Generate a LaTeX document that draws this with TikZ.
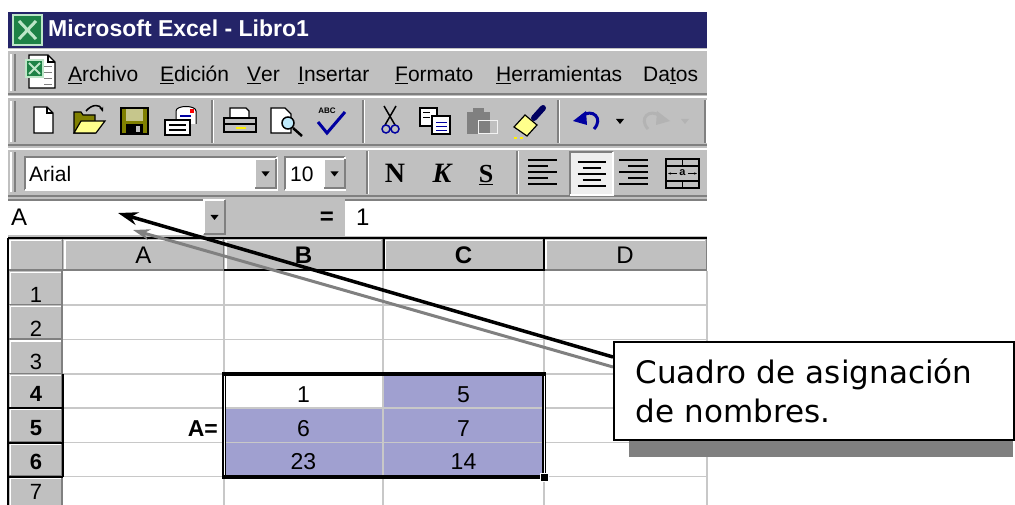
\documentclass[tikz,border=0pt]{standalone}
\usepackage{fontspec}
\setmainfont{Liberation Sans}
\newfontfamily\verdana{DejaVu Sans}
\newfontfamily\romana{Liberation Serif}
\usetikzlibrary{arrows.meta}
\definecolor{grisWin}{RGB}{192,192,192}
\definecolor{grisOsc}{RGB}{128,128,128}
\definecolor{azulTit}{RGB}{36,36,104}
\definecolor{lila}{RGB}{160,160,208}
\definecolor{rejilla}{RGB}{200,200,200}
\definecolor{olivo}{RGB}{128,128,0}
\definecolor{amarillo}{RGB}{255,255,140}
\definecolor{azulIco}{RGB}{0,0,160}
\definecolor{verdeXl}{RGB}{30,130,70}
\definecolor{verdeClaro}{RGB}{190,230,200}
\newcommand{\tam}[1]{\fontsize{#1}{#1}\selectfont}

\begin{document}
\begin{tikzpicture}[x=1pt,y=-1pt,
    luz/.style={white,line width=1.5pt},
    sombra/.style={grisOsc,line width=1.5pt},
    menu/.style={anchor=base west,inner sep=0pt,font=\tam{21pt}},
    celda/.style={anchor=base,inner sep=0pt,font=\tam{23pt}},
    cabecera/.style={anchor=base,inner sep=0pt,font=\tam{22pt}},
    icono/.style={line width=1.2pt},
    flecha/.style={line width=3.5pt,-{Stealth[length=20pt,width=13pt]}}]

\useasboundingbox (0,0) rectangle (1015,505);
\fill[white] (0,0) rectangle (1015,505);

% ventana y barras
\fill[grisWin] (8,48) rectangle (707,238);
\fill[azulTit] (8,12) rectangle (707,48);
\draw[verdeClaro,fill=verdeXl,line width=2pt] (13,15) rectangle (42,45);
\draw[verdeClaro,line width=3pt] (19,21) -- (36,39) (36,21) -- (19,39);
\node[anchor=base west,inner sep=0pt,white,font=\bfseries\tam{23pt}] (titulo) at (48,37) {Microsoft Excel - Libro1};

\foreach \a/\b in {50/94, 97/145, 149/196}
    {\draw[luz] (8,\a) -- (707,\a); \draw[sombra] (8,\b) -- (707,\b);}
\foreach \a/\b in {54/91, 101/142, 152/192}
    {\draw[luz] (11,\a) -- (11,\b); \draw[sombra] (15,\a) -- (15,\b);}
\foreach \x/\a/\b in {212/100/143, 363/100/143, 558/100/143, 705/100/143, 367/151/194, 517/151/194}
    {\draw[sombra] (\x,\a) -- (\x,\b); \draw[luz] (\x+1.5,\a) -- (\x+1.5,\b);}

% menu
\draw[icono,fill=white] (29,55) -- (48,55) -- (55,62) -- (55,88) -- (29,88) -- cycle;
\draw[icono] (48,55) -- (48,62) -- (55,62);
\foreach \y in {66,72,78,84} \draw[grisOsc] (44,\y) -- (52,\y);
\draw[verdeClaro,fill=verdeXl,line width=1.5pt] (26,60) rectangle (43,77);
\draw[verdeClaro,line width=2pt] (29,63) -- (40,74) (40,63) -- (29,74);
\foreach \x/\t in {68/{\underline{A}rchivo}, 160/{\underline{E}dición}, 247/{\underline{V}er},
                   298/{\underline{I}nsertar}, 395/{\underline{F}ormato}, 496/{\underline{H}erramientas},
                   643/{Da\underline{t}os}}
    \node[menu] at (\x,82) {\t};

% barra estandar
\draw[icono,fill=white] (34,107) -- (47,107) -- (53,113) -- (53,133) -- (34,133) -- cycle;
\draw[icono] (47,107) -- (47,113) -- (53,113);
\draw[icono,fill=olivo] (74,112) -- (81,112) -- (83,115) -- (95,115) -- (95,133) -- (74,133) -- cycle;
\draw[icono,fill=amarillo] (74,133) -- (81,121) -- (105,121) -- (96,133) -- cycle;
\draw[line width=1.5pt,-{Stealth[length=5pt]}] (86,111) .. controls (92,104) and (100,104) .. (103,112);
\draw[icono,fill=olivo] (121,108) rectangle (148,134);
\fill[white!55!olivo] (126,109) rectangle (143,121);
\fill[black] (126,124) rectangle (143,134);
\fill[grisWin] (136,126) rectangle (140,132);
\draw[line width=1pt,fill=white] (176,124) -- (176,111) .. controls (176,105) and (196,105) .. (196,111) -- (196,124);
\fill[red] (190,109) rectangle (194,113);
\draw[azulIco,icono] (180,116) -- (191,116);
\draw[icono,fill=white] (165,120) rectangle (190,135);
\foreach \y in {125,130} \draw[icono] (169,\y) -- (186,\y);
\draw[icono,fill=white] (230,108) -- (246,108) -- (249,111) -- (249,118) -- (230,118) -- cycle;
\draw[line width=1.5pt,fill=grisWin] (224,118) rectangle (256,132);
\draw[icono] (224,124) -- (256,124);
\fill[yellow] (236,127) rectangle (246,129);
\draw[icono,fill=white] (271,108) -- (285,108) -- (291,114) -- (291,133) -- (271,133) -- cycle;
\draw[line width=2.5pt] (293,128) -- (302,136);
\draw[line width=1.5pt,fill=cyan!25] (288,123) circle (6pt);
\node[inner sep=0pt,font=\bfseries\tam{8pt}] (abc) at (327,111) {ABC};
\draw[azulIco,line width=3pt] (318,122) -- (327,133) -- (345,112);
\draw[line width=1.5pt] (384,106) -- (395,125) (396,106) -- (385,125);
\draw[azulIco,line width=1.5pt] (386,129) circle (4pt) (395,129) circle (4pt);
\draw[icono,fill=white] (420,108) rectangle (437,126);
\draw[icono,fill=white] (432,116) rectangle (450,134);
\foreach \y in {112,117} \draw (423,\y) -- (430,\y);
\foreach \y in {122,126,130} \draw[azulIco] (436,\y) -- (447,\y);
\fill[grisOsc] (467,112) rectangle (490,134);
\fill[grisOsc] (473,108) rectangle (484,113);
\draw[white!80!grisWin,line width=1pt] (478,121) rectangle (497,134);
\draw[azulIco!60!black,line width=6pt,line cap=round] (534,118) -- (543,108);
\draw[icono,fill=amarillo] (514,127) -- (525,115) -- (537,125) -- (527,136) -- cycle;
\draw[yellow,dashed,line width=1.5pt] (514,138) -- (526,138);
\draw[azulIco,line width=3pt] (582,116) .. controls (592,108) and (604,118) .. (594,129);
\fill[azulIco] (573,121) -- (586,111) -- (587,125) -- cycle;
\fill (616,119) -- (624,119) -- (620,124) -- cycle;
\draw[grisOsc!60!white,line width=3pt] (660,116) .. controls (650,108) and (638,118) .. (648,129);
\fill[grisOsc!60!white] (670,121) -- (657,111) -- (656,125) -- cycle;
\fill[grisOsc!60!white] (681,119) -- (689,119) -- (685,124) -- cycle;

% barra de formato
\foreach \a/\b in {25/277, 285/345}
    {\fill[white] (\a,157) rectangle (\b,190);
     \draw[sombra] (\a,190) -- (\a,157) -- (\b,157);
     \draw[luz] (\a,190) -- (\b,190) -- (\b,157);}
\foreach \x/\a/\b in {255/159/188, 324/159/188, 204/200/234}
    {\fill[grisWin] (\x,\a) rectangle (\x+21,\b);
     \draw[luz] (\x,\b) -- (\x,\a) -- (\x+21,\a);
     \draw[sombra] (\x,\b) -- (\x+21,\b) -- (\x+21,\a);
     \fill (\x+6.5,\a/2+\b/2-2) -- (\x+14.5,\a/2+\b/2-2) -- (\x+10.5,\a/2+\b/2+3) -- cycle;}
\node[menu] (fuente) at (29,182) {Arial};
\node[menu] (tamano) at (290,182) {10};
\node[anchor=base,inner sep=0pt,font=\romana\bfseries\tam{28pt}] (negrita) at (395,183) {N};
\node[anchor=base,inner sep=0pt,font=\romana\bfseries\itshape\tam{28pt}] (cursiva) at (442,183) {K};
\node[anchor=base,inner sep=0pt,font=\romana\bfseries\tam{26pt}] (subrayado) at (486,183) {\underline{S}};
\foreach \y/\l in {160/29, 166/20, 172/29, 178/20, 184/29}
    {\draw[line width=2.5pt] (528,\y) -- ++(\l,0);
     \draw[line width=2.5pt] (648-\l,\y) -- (648,\y);}
\fill[white!75!grisWin] (570,152) rectangle (613,195);
\draw[sombra] (570,195) -- (570,152) -- (613,152);
\draw[luz] (570,195) -- (613,195) -- (613,152);
\foreach \y/\l in {162/28, 168/18, 174/28, 180/18, 186/28}
    \draw[line width=2.5pt] (591.5-\l/2,\y) -- ++(\l,0);
\draw[line width=1.5pt] (666,159) rectangle (699,188);
\draw[line width=1.5pt] (666,166) -- (699,166) (666,181) -- (699,181)
    (682.5,159) -- (682.5,166) (682.5,181) -- (682.5,188);
\node[inner sep=0pt,font=\bfseries\tam{11pt}] (letraA) at (682.5,173) {a};
\draw[icono,-{Stealth[length=3pt]}] (677,173.5) -- (668,173.5);
\draw[icono,-{Stealth[length=3pt]}] (688,173.5) -- (697,173.5);

% barra de formulas
\fill[white] (8,200) rectangle (203,235);
\draw[sombra] (8,200) -- (203,200);
\node[menu,font=\tam{24pt}] (cuadroNombre) at (11,226) {A};
\node[inner sep=0pt,font=\bfseries\tam{24pt}] (igual) at (327,218) {=};
\fill[white] (345,200) rectangle (707,236);
\draw[sombra] (345,200) -- (707,200);
\node[menu,font=\tam{24pt}] (formula) at (356,226) {1};

% hoja
\fill[grisWin] (8,238) rectangle (707,271);
\fill[grisWin] (8,271) rectangle (63,505);
\fill[lila] (224,374) rectangle (544,476.5);
\fill[white] (224,374) rectangle (383,408);
\foreach \x in {224,383,544,707}
    \draw[rejilla,line width=1.5pt] (\x,271) -- (\x,505);
\foreach \y in {305,339.5,374,408,442.5,476.5}
    \draw[rejilla,line width=1.5pt] (63,\y) -- (707,\y);
\draw[black,line width=1.5pt] (8,238) -- (707,238);
\foreach \a/\b in {8/63, 63/224, 224/383, 383/544, 544/707}
    {\draw[luz] (\a+2,240.5) -- (\b-2,240.5); \draw[luz] (\a+2,240.5) -- (\a+2,269);
     \draw[sombra] (\b-0.75,239) -- (\b-0.75,270); \draw[sombra] (\a,270) -- (\b,270);}
\draw[black,line width=2pt] (224,270.5) -- (544,270.5) (383.5,239) -- (383.5,271) (544,239) -- (544,271);
\foreach \x/\l in {143.5/A, 625/D}
    \node[anchor=base,inner sep=0pt,font=\tam{24pt}] at (\x,263) {\l};
\foreach \x/\l in {303.5/B, 463.5/C}
    \node[anchor=base,inner sep=0pt,font=\bfseries\tam{24pt}] at (\x,263) {\l};
\foreach \a/\b in {271/305, 305/339.5, 339.5/374, 374/408, 408/442.5, 442.5/476.5, 476.5/511}
    {\draw[luz] (10,\a+1.5) -- (61,\a+1.5); \draw[luz] (10.5,\a+1.5) -- (10.5,\b-1.5);
     \draw[sombra] (9,\b-0.75) -- (62,\b-0.75); \draw[sombra] (62,\a) -- (62,\b);}
\draw[black,line width=2pt] (62.5,374) -- (62.5,476.5) (9,408) -- (63,408) (9,442.5) -- (63,442.5) (9,476.5) -- (63,476.5);
\foreach \n/\y in {1/302, 2/336, 3/369, 7/499}
    \node[cabecera] at (36,\y) {\n};
\foreach \n/\y in {4/401, 5/435, 6/469}
    \node[cabecera,font=\bfseries\tam{22pt}] at (36,\y) {\n};
\draw[black,line width=2pt] (8,238) -- (8,505);

% seleccion A
\draw[line width=4pt] (224,374) rectangle (544,476.5);
\draw[white,line width=0.8pt] (224,376) -- (224,474.5) (544,376) -- (544,474.5);
\draw[fill=black,draw=white,line width=1pt] (540,473) rectangle (548,481);
\foreach \x/\y/\v in {303.5/402/1, 463.5/402/5, 303.5/436/6, 463.5/436/7, 303.5/469/23, 463.5/469/14}
    \node[celda] at (\x,\y) {\v};
\node[anchor=base east,inner sep=0pt,font=\bfseries\tam{23pt}] (etiquetaA) at (218,436) {A=};

% flechas y cuadro
\coordinate (puntaNegra) at (118,213);
\coordinate (puntaGris) at (133,230);
\draw[flecha,grisOsc,line width=3pt,-{Stealth[length=17pt,width=11pt]}] (613,367) -- (puntaGris);
\draw[flecha] (613,357) -- (puntaNegra);
\fill[grisOsc] (629,380) rectangle (1013,457);
\node[draw,line width=2pt,fill=white,anchor=north west,minimum width=400pt,minimum height=98pt,
      inner xsep=21pt,align=left,text width=357pt,
      font=\verdana\fontsize{31pt}{39pt}\selectfont] (nombres) at (613,341) {Cuadro de asignación\\de nombres.};
\end{tikzpicture}
\end{document}
